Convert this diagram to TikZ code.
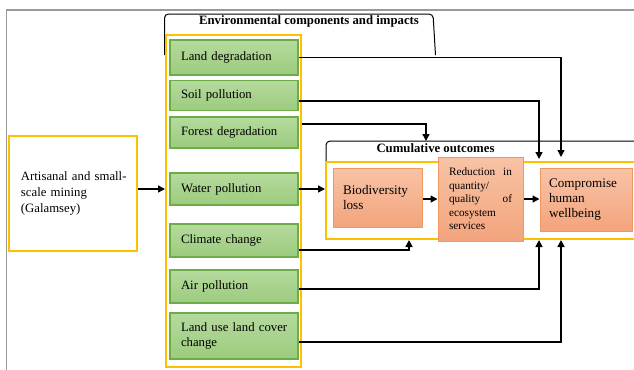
\documentclass[tikz,border=0pt]{standalone}
\usepackage{fontspec}
\setmainfont{Liberation Serif}
\usetikzlibrary{arrows.meta,shadings}
\definecolor{ylw}{HTML}{FFC000}
\definecolor{gbd}{HTML}{6DAD48}
\definecolor{gtop}{HTML}{B5DA9E}
\definecolor{gbot}{HTML}{9CCB7D}
\definecolor{obd}{HTML}{EE9862}
\definecolor{otop}{HTML}{F8C3A6}
\definecolor{obot}{HTML}{F3A47C}
\definecolor{frame}{HTML}{9A9A9A}
\newcommand{\gfont}{\fontsize{12.8}{15.5}\selectfont}
\newcommand{\afont}{\fontsize{12.8}{16}\selectfont}
\newcommand{\ofont}{\fontsize{13.2}{15}\selectfont}
\newcommand{\rfont}{\fontsize{11.3}{13.5}\selectfont}
\tikzset{
  arr/.style={draw=black, line width=1.4bp, -{Triangle[length=7bp,width=7bp]}},
  tab/.style={draw=black, line width=1bp, rounded corners=4bp},
  ybox/.style={draw=ylw, line width=2bp, inner sep=0pt},
  gbox/.style={draw=gbd, line width=1.8bp, top color=gtop, bottom color=gbot, minimum width=128bp, text width=106bp, inner xsep=11bp, inner ysep=0pt, align=left, font=\gfont},
  obox/.style={draw=obd, line width=1bp, top color=otop, bottom color=obot, inner ysep=0pt, align=left},
  ttl/.style={font=\bfseries\gfont, inner sep=0pt},
}
\begin{document}
\begin{tikzpicture}[x=1bp,y=-1bp]
\useasboundingbox (0,0) rectangle (634,369);
\clip (0,0) rectangle (634,369);
% outer frame
\draw[draw=frame, line width=1.5bp] (6.5,372) -- (6.5,10) -- (640,10);
% tabs
\draw[tab] (164.5,55) -- (164.5,14) -- (433,14) -- (435.5,55);
\draw[tab] (326,162) -- (326,141) -- (640,141);
\node[ttl] (envt) at (309,21.5) {Environmental components and impacts};
\node[ttl] (cumt) at (435.5,148) {Cumulative outcomes};
% yellow containers
\node[ybox, minimum width=135bp, minimum height=332bp] (envbox) at (233.5,201) {};
\node[ybox, minimum width=334bp, minimum height=77bp] (cumbox) at (493,200) {};
\node[ybox, fill=white, minimum width=128bp, minimum height=115bp, text width=104bp, inner xsep=12bp, align=left, font=\afont] (art) at (73,193.5) {\mbox{Artisanal and small-}\\scale mining\\(Galamsey)};
% green boxes
\node[gbox, minimum height=35bp] (land) at (234,57.5) {Land degradation};
\node[gbox, minimum height=30bp] (soil) at (234,95.5) {Soil pollution};
\node[gbox, minimum height=31bp] (forest) at (234,132.5) {Forest degradation};
\node[gbox, minimum height=32bp] (water) at (234,189) {Water pollution};
\node[gbox, minimum height=33bp] (climate) at (234,240.5) {Climate change};
\node[gbox, minimum height=33bp] (air) at (234,286.5) {Air pollution};
\node[gbox, minimum height=46bp] (landuse) at (234,336) {Land~use~land~cover\\change};
% orange boxes
\node[obox, minimum width=89bp, minimum height=59bp, text width=69bp, inner xsep=10bp, font=\ofont] (bio) at (377.5,197.5) {Biodiversity\\loss};
\node[obox, minimum width=85bp, minimum height=84bp, text width=63bp, inner xsep=11bp, font=\rfont] (red) at (480.5,199) {Reduction\hfill in\\quantity/\\quality\hfill of\\ecosystem\\services};
\node[obox, minimum width=92bp, minimum height=63bp, text width=74bp, inner xsep=9bp, font=\ofont] (comp) at (586,199.5) {Compromise\\human\\wellbeing};
% arrow end points
\coordinate (p1) at (561,157);
\coordinate (p2) at (539,159);
\coordinate (p3) at (426,141);
\coordinate (p7) at (409,240);
\coordinate (p8) at (539,240);
\coordinate (p9) at (561,240);
\coordinate (f0) at ([yshift=8.5bp]forest.east);
% arrows
\draw[arr] (art.east |- water.west) -- (envbox.west |- water.west);
\draw[arr] (land.east) -| (p1);
\draw[arr] ([yshift=-5.5bp]soil.east) -| (p2);
\draw[arr] (f0 -| envbox.east) -| (p3);
\draw[arr] (water.east) -- (water.east -| cumbox.west);
\draw[arr] (red.west -| bio.east) -- (red.west);
\draw[arr] (red.east) -- (red.east -| comp.west);
\draw[arr] ([yshift=-9.5bp]climate.east) -| (p7);
\draw[arr] ([yshift=-2.5bp]air.east) -| (p8);
\draw[arr] ([yshift=-6bp]landuse.east) -| (p9);
\end{tikzpicture}
\end{document}
